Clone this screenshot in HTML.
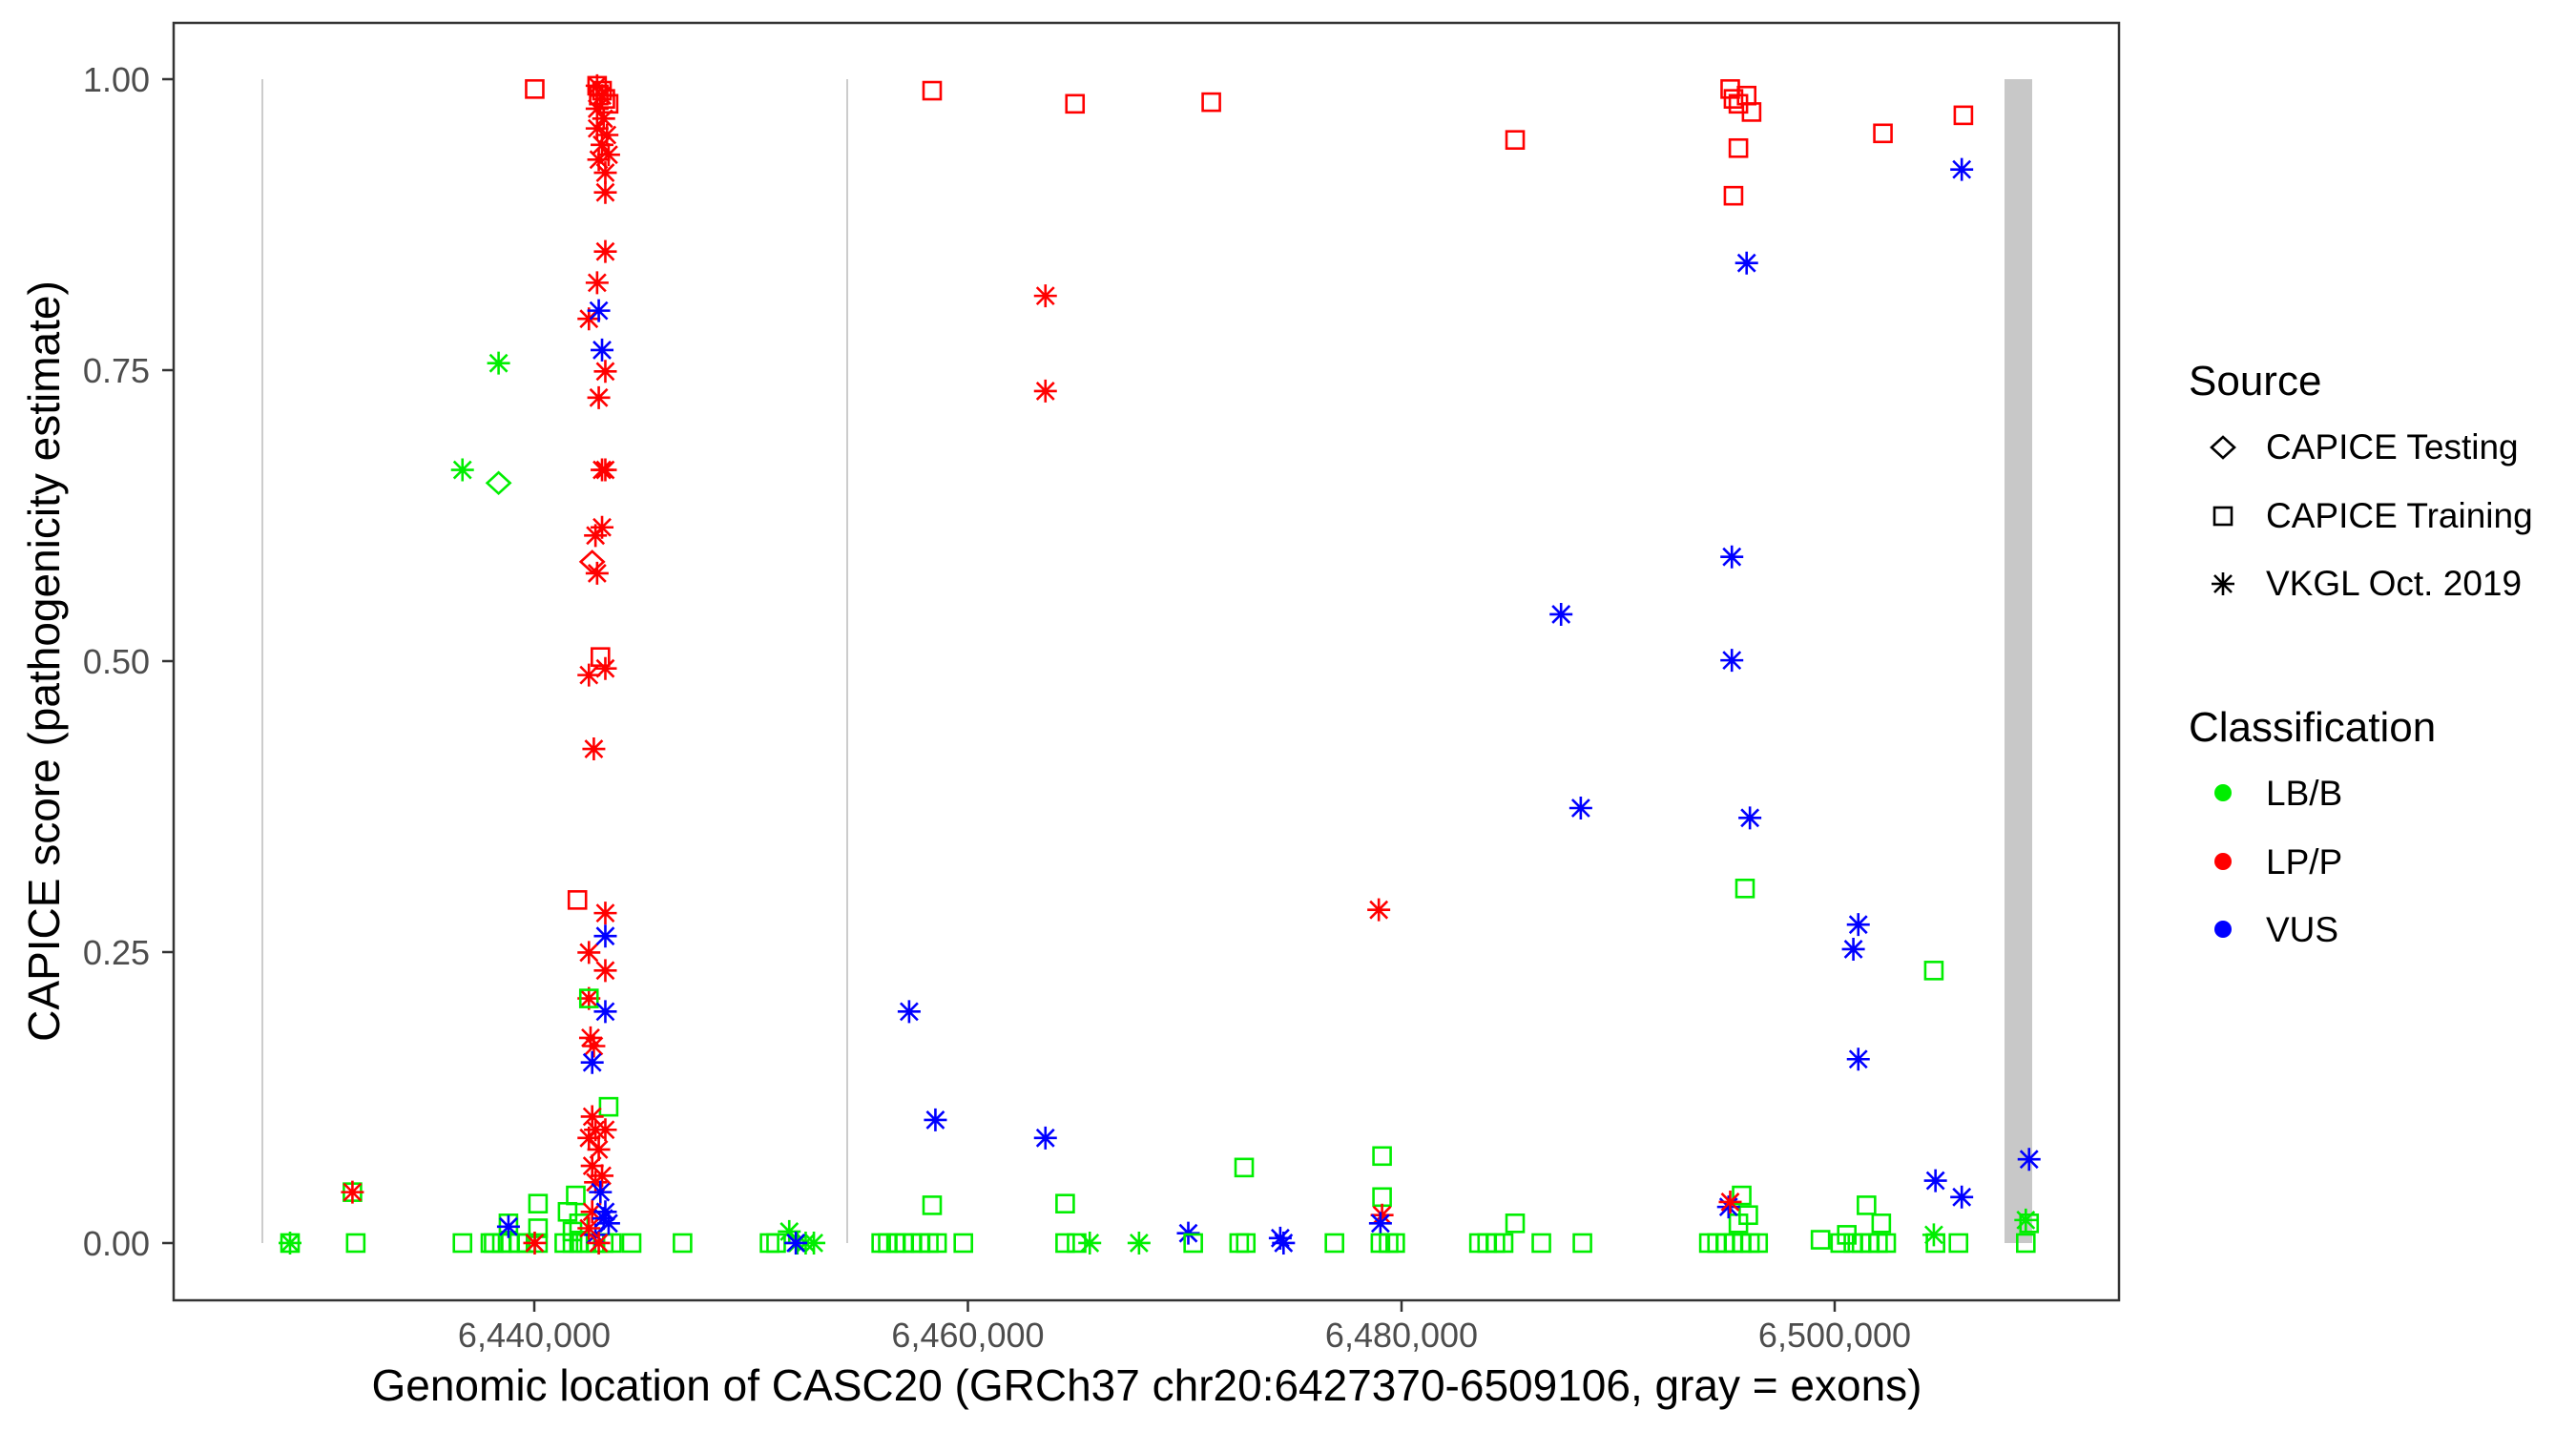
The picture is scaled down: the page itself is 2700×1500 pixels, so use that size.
<!DOCTYPE html>
<html><head><meta charset="utf-8"><style>
html,body{margin:0;padding:0;background:#fff;}
svg{display:block;font-family:"Liberation Sans",Arial,sans-serif;}
</style></head><body>
<svg id="s" width="2700" height="1500" viewBox="0 0 2700 1500" xmlns="http://www.w3.org/2000/svg">
<rect width="2700" height="1500" fill="#fff"/>
<rect x="2101" y="83" width="29" height="1220" fill="#c8c8c8"/>
<line x1="275" y1="83" x2="275" y2="1303" stroke="#cccccc" stroke-width="2"/>
<line x1="888" y1="83" x2="888" y2="1303" stroke="#cccccc" stroke-width="2"/>
<g id="pts" fill="none" stroke-width="2.6"></g>
<rect x="182" y="24" width="2039" height="1339" fill="none" stroke="#333" stroke-width="2.5"/>
<g stroke="#333" stroke-width="2.5">
<line x1="170" y1="83" x2="182" y2="83"/><line x1="170" y1="388" x2="182" y2="388"/>
<line x1="170" y1="693" x2="182" y2="693"/><line x1="170" y1="998" x2="182" y2="998"/>
<line x1="170" y1="1303" x2="182" y2="1303"/>
<line x1="560" y1="1363" x2="560" y2="1375"/><line x1="1014.5" y1="1363" x2="1014.5" y2="1375"/>
<line x1="1469" y1="1363" x2="1469" y2="1375"/><line x1="1923" y1="1363" x2="1923" y2="1375"/>
</g>
<g fill="#4d4d4d" font-size="36" text-anchor="end">
<text x="157" y="96">1.00</text><text x="157" y="401">0.75</text><text x="157" y="706">0.50</text>
<text x="157" y="1011">0.25</text><text x="157" y="1316">0.00</text>
</g>
<g fill="#4d4d4d" font-size="36" text-anchor="middle">
<text x="560" y="1412">6,440,000</text><text x="1014.5" y="1412">6,460,000</text>
<text x="1469" y="1412">6,480,000</text><text x="1923" y="1412">6,500,000</text>
</g>
<text x="1202" y="1468" font-size="46" text-anchor="middle" fill="#000">Genomic location of CASC20 (GRCh37 chr20:6427370-6509106, gray = exons)</text>
<text transform="translate(62,693) rotate(-90)" font-size="46" text-anchor="middle" fill="#000">CAPICE score (pathogenicity estimate)</text>
<g font-size="44" fill="#000"><text x="2294" y="414">Source</text><text x="2294" y="777">Classification</text></g>
<g font-size="37" fill="#000">
<text x="2375" y="481">CAPICE Testing</text><text x="2375" y="553">CAPICE Training</text><text x="2375" y="624">VKGL Oct. 2019</text>
<text x="2375" y="844">LB/B</text><text x="2375" y="916">LP/P</text><text x="2375" y="987">VUS</text>
</g>
<g id="leg" fill="none" stroke="#000" stroke-width="2.6"></g>
<circle cx="2330" cy="831" r="9" fill="#00ee00"/><circle cx="2330" cy="903" r="9" fill="#ff0000"/><circle cx="2330" cy="974" r="9" fill="#0000ff"/>
</svg>
<script>
var NS="http://www.w3.org/2000/svg";
function el(p,t,a){var e=document.createElementNS(NS,t);for(var k in a)e.setAttribute(k,a[k]);p.appendChild(e);return e;}
function shape(p,sh,x,y,c){
 if(sh=="s"){el(p,"rect",{x:x-9,y:y-9,width:18,height:18,stroke:c});}
 else if(sh=="d"){el(p,"path",{d:"M"+(x-12)+" "+y+" L"+x+" "+(y-11)+" L"+(x+12)+" "+y+" L"+x+" "+(y+11)+"Z",stroke:c});}
 else {var r=12,q=9;el(p,"path",{d:"M"+(x-r)+" "+y+"H"+(x+r)+"M"+x+" "+(y-r)+"V"+(y+r)+"M"+(x-q)+" "+(y-q)+"L"+(x+q)+" "+(y+q)+"M"+(x-q)+" "+(y+q)+"L"+(x+q)+" "+(y-q),stroke:c});}
}
var C={g:"#00ee00",r:"#ff0000",b:"#0000ff"};
var D=[
[176,757,"g","a"],[176,757,"g","s"],[214,726,"g","s"],[214,726,"r","a"],[216,757,"g","s"],[281,757,"g","s"],
[298,757,"g","s"],[300,757,"g","s"],[305,757,"g","s"],[310,757,"g","s"],[315,757,"g","s"],[320,757,"g","s"],[327,757,"g","s"],
[309,745,"g","s"],[327,733,"g","s"],[327,748,"g","s"],[309,747,"b","a"],[325,757,"r","a"],[325,54,"r","s"],
[303,221,"g","a"],[281,286,"g","a"],[303,294,"g","d"],[360,342,"r","d"],
[343,757,"g","s"],[348,757,"g","s"],[352,757,"g","s"],[356,757,"g","s"],[362,757,"g","s"],[367,757,"g","s"],[372,757,"g","s"],
[350,728,"g","s"],[345,738,"g","s"],[352,745,"g","s"],[348,750,"g","s"],[370,674,"g","s"],[384,757,"g","s"],[415,757,"g","s"],
[363,52,"r","s"],[366,55,"r","s"],[368,60,"r","s"],[364,58,"r","s"],[370,63,"r","s"],
[363,52,"r","a"],[366,58,"r","a"],[363,66,"r","a"],[367,72,"r","a"],[363,78,"r","a"],[369,82,"r","a"],[366,88,"r","a"],[370,94,"r","a"],[364,97,"r","a"],[368,105,"r","a"],[368,117,"r","a"],
[368,153,"r","a"],[363,172,"r","a"],[358,194,"r","a"],[368,226,"r","a"],[364,242,"r","a"],[364,189,"b","a"],[366,213,"b","a"],
[368,286,"r","a"],[366,286,"r","a"],[366,321,"r","a"],[362,326,"r","a"],[363,349,"r","a"],[365,400,"r","s"],[368,407,"r","a"],[358,411,"r","a"],[361,456,"r","a"],
[351,548,"r","s"],[368,556,"r","a"],[358,580,"r","a"],[368,591,"r","a"],[358,608,"r","a"],[358,608,"g","s"],[368,570,"b","a"],[368,616,"b","a"],
[359,632,"r","a"],[361,637,"r","a"],[360,647,"b","a"],[360,680,"r","a"],[362,688,"r","a"],[358,693,"r","a"],[368,688,"r","a"],[364,700,"r","a"],[360,710,"r","a"],[366,716,"r","a"],[362,720,"r","a"],
[365,726,"b","a"],[360,738,"r","a"],[368,738,"b","a"],[367,742,"b","a"],[362,752,"b","a"],[358,748,"r","a"],[364,757,"r","a"],[370,745,"b","a"],
[468,757,"g","s"],[472,757,"g","s"],[480,750,"g","a"],[485,757,"g","a"],[490,757,"g","a"],[495,757,"g","a"],[484,757,"b","a"],
[536,757,"g","s"],[540,757,"g","s"],[545,757,"g","s"],[550,757,"g","s"],[555,757,"g","s"],[560,757,"g","s"],[565,757,"g","s"],[570,757,"g","s"],[586,757,"g","s"],[567,734,"g","s"],
[567,55,"r","s"],[654,63,"r","s"],[737,62,"r","s"],[636,180,"r","a"],[636,238,"r","a"],
[553,616,"b","a"],[569,682,"b","a"],[636,693,"b","a"],
[648,757,"g","s"],[648,733,"g","s"],[655,757,"g","s"],[663,757,"g","a"],[693,757,"g","a"],[723,751,"b","a"],[726,757,"g","s"],[757,711,"g","s"],[754,757,"g","s"],[758,757,"g","s"],[779,754,"b","a"],[781,757,"b","a"],[812,757,"g","s"],
[839,554,"r","a"],[841,704,"g","s"],[841,729,"g","s"],[841,740,"r","a"],[840,745,"b","a"],[840,757,"g","s"],[845,757,"g","s"],[849,757,"g","s"],
[922,85,"r","s"],[950,374,"b","a"],[962,492,"b","a"],
[900,757,"g","s"],[905,757,"g","s"],[910,757,"g","s"],[915,757,"g","s"],[922,745,"g","s"],[938,757,"g","s"],[963,757,"g","s"],
[1053,54,"r","s"],[1055,60,"r","s"],[1058,63,"r","s"],[1063,58,"r","s"],[1066,68,"r","s"],[1058,90,"r","s"],[1055,119,"r","s"],
[1063,160,"b","a"],[1054,339,"b","a"],[1054,402,"b","a"],[1065,498,"b","a"],[1062,541,"g","s"],
[1040,757,"g","s"],[1045,757,"g","s"],[1050,757,"g","s"],[1055,757,"g","s"],[1060,757,"g","s"],[1065,757,"g","s"],[1070,757,"g","s"],
[1060,728,"g","s"],[1064,740,"g","s"],[1058,745,"g","s"],[1052,735,"b","a"],[1053,732,"r","a"],
[1146,81,"r","s"],[1195,70,"r","s"],[1194,103,"b","a"],
[1131,563,"b","a"],[1128,578,"b","a"],[1131,645,"b","a"],[1177,591,"g","s"],
[1178,719,"b","a"],[1194,729,"b","a"],[1235,706,"b","a"],
[1108,755,"g","s"],[1120,757,"g","s"],[1124,752,"g","s"],[1128,757,"g","s"],[1133,757,"g","s"],[1138,757,"g","s"],[1143,757,"g","s"],[1148,757,"g","s"],[1136,734,"g","s"],[1145,745,"g","s"],
[1177,752,"g","a"],[1178,757,"g","s"],[1192,757,"g","s"],[1233,743,"g","a"],[1235,745,"g","s"],[1233,757,"g","s"]
];
var g=document.getElementById("pts");
function X(d){return 304+(d-176)*1.7212;}
function Y(d){return 83+(d-48)*1.7207;}
D.forEach(function(d){shape(g,d[3],X(d[0]),Y(d[1]),C[d[2]]);});
var L=document.getElementById("leg");
shape(L,"d",2330,469,"#000");shape(L,"s",2330,541,"#000");shape(L,"a",2330,612,"#000");
</script>
</body></html>
